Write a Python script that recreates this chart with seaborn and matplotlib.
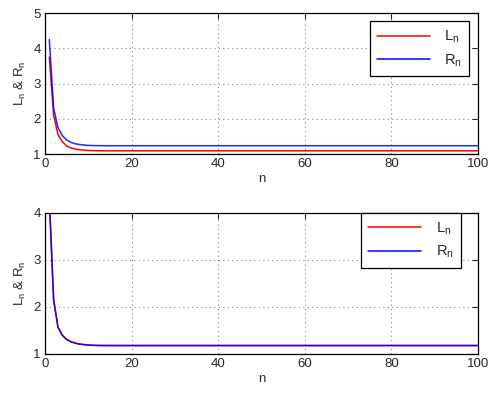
import numpy as np
import pandas as pd
import matplotlib
matplotlib.use("Agg")
import matplotlib.pyplot as plt
import seaborn as sns

# values (curves are flat after n ~ 15)
n_vals = [1, 2, 3, 4, 5, 6, 7, 8, 9, 10, 11, 12, 13, 14, 15, 100]
top_L = [3.75, 2.10, 1.55, 1.35, 1.23, 1.17, 1.14, 1.12, 1.11, 1.10, 1.095, 1.093, 1.092, 1.091, 1.09, 1.09]
top_R = [4.25, 2.30, 1.75, 1.52, 1.40, 1.33, 1.29, 1.27, 1.255, 1.245, 1.240, 1.237, 1.236, 1.235, 1.235, 1.235]
bot_L = [4.30, 2.15, 1.57, 1.40, 1.31, 1.26, 1.23, 1.21, 1.20, 1.19, 1.185, 1.182, 1.181, 1.18, 1.18, 1.18]
bot_R = [4.30, 2.15, 1.57, 1.40, 1.31, 1.26, 1.23, 1.21, 1.20, 1.19, 1.185, 1.182, 1.181, 1.18, 1.18, 1.18]

x_ticks = [0, 20, 40, 60, 80, 100]
top_yticks = [1, 2, 3, 4, 5]
bot_yticks = [1, 2, 3, 4]

sns.set_style("white")
plt.rcParams['font.family'] = ['Liberation Sans', 'DejaVu Sans']
plt.rcParams['mathtext.fontset'] = 'custom'
plt.rcParams['mathtext.rm'] = 'Liberation Sans'
plt.rcParams['mathtext.it'] = 'Liberation Sans'

fig = plt.figure(figsize=(4.97, 3.99), dpi=100)
ax1 = fig.add_axes([0.0905, 0.614, 0.8712, 0.3534])
ax2 = fig.add_axes([0.0905, 0.1128, 0.8712, 0.3534])


def draw(ax, L, R, yticks, legend_anchor):
    df = pd.DataFrame({'n': n_vals * 2,
                       'value': L + R,
                       'series': ['$\\mathregular{L_n}$'] * len(n_vals) + ['$\\mathregular{R_n}$'] * len(n_vals)})
    sns.lineplot(data=df, x='n', y='value', hue='series', palette=['red', 'blue'],
                 linewidth=1.1, ax=ax, legend=True)
    for line in ax.get_lines()[1:2]:
        line.set_alpha(0.85)
    ax.set_xlim(0, 100)
    ax.set_ylim(yticks[0], yticks[-1])
    ax.set_xticks(x_ticks)
    ax.set_yticks(yticks)
    ax.grid(True, linestyle=(0, (1, 3)), color='#888888', linewidth=0.8)
    ax.tick_params(direction='in', top=True, right=True, labelsize=9.5, length=4, width=0.8, pad=3)
    for s in ax.spines.values():
        s.set_color('black')
        s.set_linewidth(0.9)
    ax.set_xlabel('n', fontsize=9.5, labelpad=2)
    ax.set_ylabel('$\\mathregular{L_n}$ & $\\mathregular{R_n}$', fontsize=9.5, labelpad=4)
    leg = ax.legend(loc='upper right', bbox_to_anchor=legend_anchor, fontsize=10.5,
                    fancybox=False, edgecolor='black', framealpha=1,
                    handlelength=3.6, handletextpad=1.0, borderaxespad=0,
                    labelspacing=0.5, borderpad=0.5)
    leg.get_frame().set_linewidth(0.9)


draw(ax1, top_L, top_R, top_yticks, (0.98, 0.94))
draw(ax2, bot_L, bot_R, bot_yticks, (0.96, 1.0))

fig.savefig('out.png', dpi=100)
